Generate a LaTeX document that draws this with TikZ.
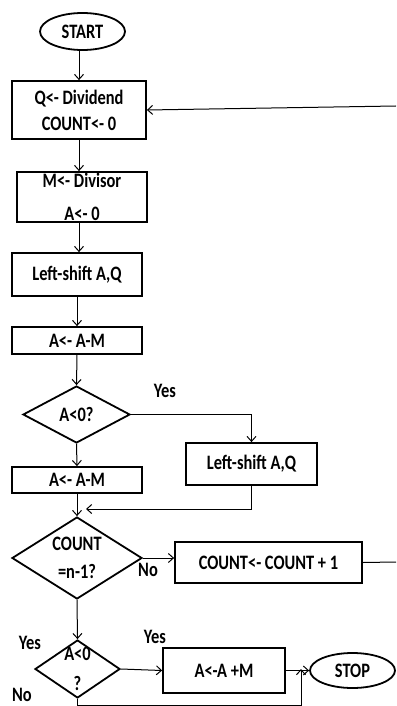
\documentclass[tikz,border=0pt]{standalone}
\usepackage{fontspec}
\setmainfont[FakeStretch=0.8]{Carlito}
\usetikzlibrary{positioning,shapes.geometric,arrows.meta}
\tikzset{
blk/.style={draw, line width=1.8pt, inner sep=0pt, align=center},
term/.style={ellipse, draw, line width=1.8pt, inner sep=0pt},
dec/.style={diamond, draw, line width=1.8pt, inner sep=0pt},
lbl/.style={inner sep=0pt, align=center},
flow/.style={line width=1pt}
}

\begin{document}
\begin{tikzpicture}[x=1pt, y=-1pt, >={Straight Barb[length=5pt,width=9pt]}, every node/.style={font=\bfseries\fontsize{20.5}{26}\selectfont}]
\useasboundingbox (0,0) rectangle (396,706);
\node[term, minimum width=85pt, minimum height=37pt] (start) at (82.5,31.5) {START};
\node[blk, minimum width=134pt, minimum height=58pt] (init) at (79,110) {Q<- Dividend\\COUNT<- 0};
\node[blk, minimum width=130pt, minimum height=50pt] (load) at (82,197) {M<- Divisor\\[7pt]A<- 0};
\node[blk, minimum width=130pt, minimum height=43pt] (shiftA) at (77,274.5) {Left-shift A,Q};
\node[blk, minimum width=130pt, minimum height=27pt] (subA) at (77,340.5) {A<- A-M};
\node[dec, minimum width=107pt, minimum height=57pt, label={[lbl]center:A<0?}] (testA) at (76.5,414.5) {};
\node[blk, minimum width=131pt, minimum height=42pt] (shiftB) at (251.5,464) {Left-shift A,Q};
\node[blk, minimum width=130pt, minimum height=26pt] (subB) at (77,480) {A<- A-M};
\node[dec, minimum width=130pt, minimum height=82pt, label={[lbl]center:COUNT\\[2pt]=n-1?}] (testC) at (77,558) {};
\node[blk, minimum width=187pt, minimum height=41pt] (incr) at (268.5,562.5) {COUNT<- COUNT + 1};
\node[dec, minimum width=85pt, minimum height=58pt, label={[lbl]center:A<0\\[4pt]?}] (testR) at (77.5,669) {};
\node[blk, minimum width=122pt, minimum height=45pt] (restore) at (224,670.5) {A<-A +M};
\node[term, minimum width=85pt, minimum height=35pt] (stop) at (352.5,670.5) {STOP};

\node[lbl] (yesA) at (165,391) {Yes};
\node[lbl] (noC) at (148,570) {No};
\node[lbl] (yesR) at (155,637) {Yes};
\node[lbl] (yesL) at (30,643) {Yes};
\node[lbl] (noR) at (22,695) {No};

\coordinate (back) at (396,562);
\coordinate (loop) at (396,106);
\coordinate (joinA) at (86,509);
\coordinate (joinS) at (301,669);

\draw[flow,->] (init.north |- start.south) -- (init.north);
\draw[flow,->] (init.south) -- (init.south |- load.north);
\draw[flow,->] (load.south -| init.south) -- (init.south |- shiftA.north);
\draw[flow,->] (shiftA.south) -- (subA.north);
\draw[flow,->] (subA.south) -- (testA.north);
\draw[flow,->] (testA.east) -| (shiftB.north);
\draw[flow,->] (testA.south) -- (subB.north);
\draw[flow,->] (shiftB.south) |- (joinA);
\draw[flow,->] (subB.south) -- (testC.north);
\draw[flow,->] (testC.east) -- (testC.east -| incr.west);
\draw[flow] (incr.east) -- (back);
\draw[flow,->] (loop) -- (init.east);
\draw[flow,->] (testC.south) -- (testR.north);
\draw[flow,->] (testR.east) -- (restore.west);
\draw[flow,->] (restore.east) -- (stop.west);
\draw[flow,->] (testR.south) -- ++(0,7) -| (joinS);
\end{tikzpicture}
\end{document}
